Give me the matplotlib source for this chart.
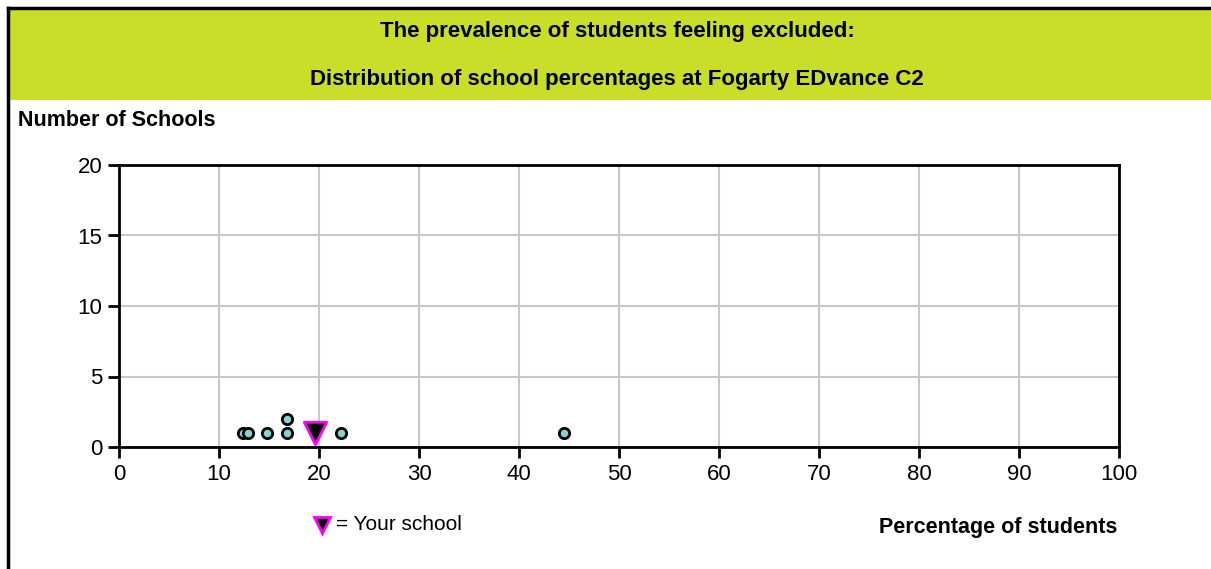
import matplotlib
matplotlib.use("Agg")
from matplotlib import pyplot as plt
from matplotlib.patches import Rectangle
from matplotlib.lines import Line2D

# School percentages and counts (stacked dots)
school_pct = [12.4, 12.9, 14.8, 16.8, 16.8, 22.2, 44.5]
school_count = [1, 1, 1, 1, 2, 1, 1]
your_pct = [19.6]
your_count = [1]

x_ticks = [0, 10, 20, 30, 40, 50, 60, 70, 80, 90, 100]
y_ticks = [0, 5, 10, 15, 20]

plt.rcParams['font.family'] = ['Liberation Sans', 'DejaVu Sans']

fig = plt.figure(figsize=(12.11, 5.69), dpi=100)

# frame and green header band
fig.add_artist(Line2D([8/1211, 8/1211], [0, 1 - 8/569], color='black', lw=2.5))
fig.add_artist(Line2D([8/1211, 1], [1 - 8/569, 1 - 8/569], color='black', lw=2.5))
fig.add_artist(Rectangle((10/1211, 1 - 100/569), 1, 90/569, facecolor='#c8de28',
                         edgecolor='none', transform=fig.transFigure))

fig.text(617/1211, 1 - 31/569, "The prevalence of students feeling excluded:", ha='center',
         va='center', fontsize=16, fontweight='bold')
fig.text(617/1211, 1 - 79/569, "Distribution of school percentages at Fogarty EDvance C2",
         ha='center', va='center', fontsize=16, fontweight='bold')
fig.text(18/1211, 1 - 120/569, "Number of Schools", ha='left', va='center', fontsize=15.5,
         fontweight='bold')

ax = fig.add_axes([119/1211, 1 - 447/569, 1000/1211, 282/569])
ax.scatter(school_pct, school_count, s=55, facecolor='#86d4d2', edgecolor='black',
           linewidth=2, zorder=3, clip_on=False)
ax.scatter(your_pct, your_count, marker='v', s=260, facecolor='black', edgecolor='#ff00ff',
           linewidth=2, zorder=4, clip_on=False)

ax.set_xlim(0, 100)
ax.set_ylim(0, 20)
ax.set_xticks(x_ticks)
ax.set_yticks(y_ticks)
ax.grid(True, color='#c8c8c8', lw=1.5)
ax.set_axisbelow(True)
for s in ax.spines.values():
    s.set_linewidth(2)
ax.tick_params(axis='both', direction='out', length=8, width=2, labelsize=16, pad=4)

fig.add_artist(Line2D([322/1211], [1 - 525/569], marker='v', markersize=12, color='black',
                      markeredgecolor='#ff00ff', markeredgewidth=2))
fig.text(336/1211, 1 - 525/569, "= Your school", ha='left', va='center', fontsize=15)
fig.text(1117/1211, 1 - 528/569, "Percentage of students", ha='right', va='center', fontsize=15.5,
         fontweight='bold')

plt.savefig("out.png", dpi=100)
